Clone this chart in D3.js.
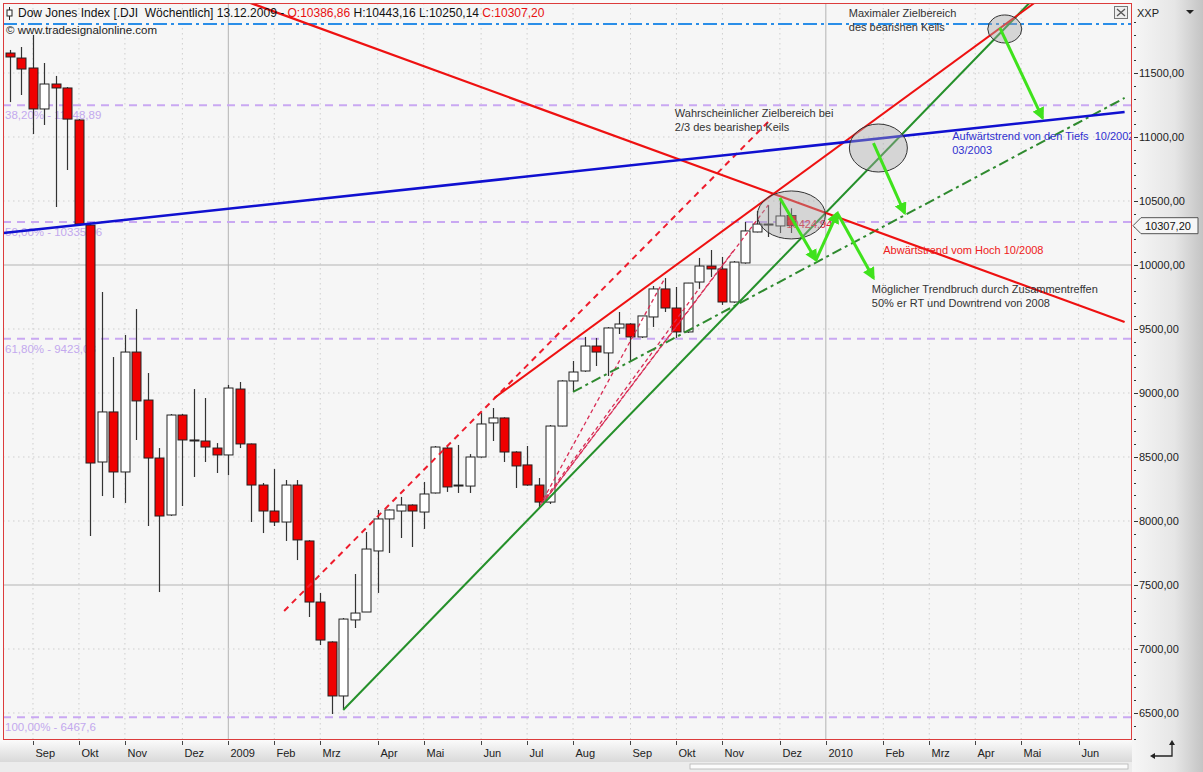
<!DOCTYPE html>
<html><head><meta charset="utf-8">
<script src="https://cdn.jsdelivr.net/npm/d3@7"></script>
<style>body{margin:0;background:#fff;overflow:hidden}svg{display:block;font-family:"Liberation Sans",Arial,sans-serif}text{white-space:pre}</style>
</head><body><svg id="c" width="1203" height="772"></svg>
<script>
// ---------------- DATA ----------------
const firstWeek = "2008-08-24"; // weekly bars, Sunday dated
const opens  = [11656,11617,11539,11219,11414,11383,11133,10312,8461,8852,8383,9320,8945,8492,8047,8828,8633,8625,8570,8516,9031,8602,8281,8078,7992,8281,7844,7367,7055,6633,7227,7289,7766,8016,8078,8125,8070,8219,8570,8275,8273,8500,8766,8805,8539,8438,8281,8148,8742,9094,9172,9367,9313,9508,9539,9438,9594,9813,9664,9477,9867,9992,9969,9711,10016,10258,10320,10305,10386.86];
const highs  = [11680,11703,11797,11578,11477,11390,11140,10330,9789,9281,9453,9656,9156,8570,8836,8836,9031,8961,8609,9063,9086,8605,8297,8406,8320,8320,7850,7438,7060,7242,7586,7914,8086,8090,8188,8130,8305,8586,8586,8594,8523,8844,8883,8810,8545,8586,8336,8750,9100,9250,9438,9430,9515,9633,9545,9602,9836,9898,9828,9860,10055,10117,10063,10031,10336,10422,10469,10508,10443.16];
const lows   = [11273,11328,11023,11094,10453,10742,10310,7883,8195,8180,8141,8633,7961,7445,8040,8117,8344,8461,8375,8359,8570,7992,7906,7961,7844,7695,7250,7031,6492,6531,7164,7289,7438,7750,7867,7797,7938,8215,8227,8219,8219,8495,8625,8461,8258,8275,8102,8133,8740,9008,9165,9211,9133,9461,9242,9430,9516,9633,9430,9470,9813,9906,9688,9705,10010,10255,10219,10250,10250.14];
const closes = [11625,11531,11219,11414,11383,11140,10320,8453,8852,8383,9320,8938,8492,8039,8828,8633,8625,8578,8516,9039,8602,8281,8078,7992,8281,7852,7367,7070,6633,7234,7281,7781,8016,8086,8125,8078,8211,8578,8266,8281,8500,8758,8805,8539,8430,8281,8148,8742,9094,9164,9367,9320,9508,9539,9438,9602,9813,9664,9477,9859,9992,9969,9711,10023,10266,10320,10318,10383,10307.20];

const monthTickDates = ["2008-09-07","2008-10-05","2008-11-02","2008-12-07","2009-01-04","2009-02-01","2009-03-01","2009-04-05","2009-05-03","2009-06-07","2009-07-05","2009-08-02","2009-09-06","2009-10-04","2009-11-01","2009-12-06","2010-01-03","2010-02-07","2010-03-07","2010-04-04","2010-05-02","2010-06-06"];
const monthTickLabels = ["Sep","Okt","Nov","Dez","2009","Feb","Mrz","Apr","Mai","Jun","Jul","Aug","Sep","Okt","Nov","Dez","2010","Feb","Mrz","Apr","Mai","Jun"];
const yTickValues = [6500,7000,7500,8000,8500,9000,9500,10000,10500,11000,11500];
const yMajorGrid = [7500,10000];

const fibNames  = ["38,20%","50,00%","61,80%","100,00%"];
const fibValues = [11248.89,10335.96,9423.03,6467.6];
const maxTargetLevel = 11883;

const upTrend2003   = [["2008-08-20",10250],["2010-07-04",11195]];
const downTrend2008 = [["2008-10-18",12475],["2010-07-04",9555]];
const wedgeUpper    = [["2009-06-15",8961],["2010-05-10",12047]];
const wedgeLower    = [["2009-03-15",6523],["2010-05-07",12047]];
const upperDashed   = [["2009-02-07",7297],["2009-11-30",11133]];
const dashDotGreen  = [["2009-08-02",9008],["2010-07-04",11305]];
const fanLines = [
  [["2009-07-13",8125],["2009-09-27",9898]],
  [["2009-07-14",8141],["2009-10-18",9820]],
  [["2009-07-16",8164],["2009-11-08",10117]],
  [["2009-07-17",8180],["2009-11-29",10469]]
];
const ellipseCenters = [["2009-12-13",10391],["2010-02-04",10914],["2010-04-22",11844]];
const arrowPaths = [
  [["2010-04-19",11852],["2010-05-15",11148]],
  [["2010-02-01",10953],["2010-02-20",10406]],
  [["2009-12-06",10523],["2009-12-28",10039]],
  [["2009-12-28",10039],["2010-01-10",10406]],
  [["2010-01-10",10406],["2010-02-01",9898]]
];
const notes = [
  {d:"2010-01-17", v:11937, lines:["Maximaler Zielbereich","des bearishen Keils"], color:"#333"},
  {d:"2009-10-03", v:11156, lines:["Wahrscheinlicher Zielbereich bei","2/3 des bearishen Keils"], color:"#333"},
  {d:"2010-03-21", v:10977, lines:["Aufwärtstrend von den Tiefs  10/2002","03/2003"], color:"#3030d0"},
  {d:"2010-02-07", v:10086, lines:["Abwärtstrend vom Hoch 10/2008"], color:"#ee2020"},
  {d:"2010-01-31", v:9781, lines:["Möglicher Trendbruch durch Zusammentreffen","50% er RT und Downtrend von 2008"], color:"#333"}
];
const highLabel = {d:"2009-12-10", v:10289, text:"10424,94"};
const header = {name:"Dow Jones Index [.DJI  Wöchentlich]", date:"13.12.2009"};

// ---------------- SETUP ----------------
const W=1203,H=772;
const P={l:3,r:1132,t:3,b:740};
const parse=d3.utcParse("%Y-%m-%d");
const svg=d3.select("#c");
const x=d3.scaleUtc().domain([parse("2008-08-24"),parse("2010-07-04")]).range([10,1124.6]);
const y=d3.scaleLinear().domain([6500,11500]).range([713,73]);
const fmt=v=>d3.format(".2f")(v).replace(".",",");
const fmtShort=v=>String(v).replace(".",",");
const pt=p=>[x(parse(p[0])),y(p[1])];

const defs=svg.append("defs");
defs.append("clipPath").attr("id","clip").append("rect").attr("x",P.l).attr("y",P.t).attr("width",P.r-P.l).attr("height",P.b-P.t);
const gr=defs.append("linearGradient").attr("id","gR").attr("x1",0).attr("x2",1).attr("y1",0).attr("y2",0);
gr.append("stop").attr("offset",0).attr("stop-color","#f6f6f6");
gr.append("stop").attr("offset",0.6).attr("stop-color","#e6e6e6");
gr.append("stop").attr("offset",1).attr("stop-color","#c4c4c4");
const gb=defs.append("linearGradient").attr("id","gB").attr("x1",0).attr("x2",0).attr("y1",0).attr("y2",1);
gb.append("stop").attr("offset",0).attr("stop-color","#fbfbfb");
gb.append("stop").attr("offset",1).attr("stop-color","#d9d9d9");
defs.append("marker").attr("id","arr").attr("viewBox","0 0 10 10").attr("refX",8).attr("refY",5)
  .attr("markerWidth",4.2).attr("markerHeight",4.2).attr("orient","auto").attr("markerUnits","strokeWidth")
  .append("path").attr("d","M0,0L10,5L0,10z").attr("fill","#3fe21c");

// backgrounds
svg.append("rect").attr("width",W).attr("height",H).attr("fill","#fafafa");
svg.append("rect").attr("x",P.r).attr("y",0).attr("width",W-P.r).attr("height",H).attr("fill","url(#gR)");
svg.append("rect").attr("x",0).attr("y",P.b).attr("width",P.r).attr("height",22).attr("fill","url(#gB)");
svg.append("rect").attr("x",0).attr("y",762).attr("width",P.r).attr("height",10).attr("fill","#ececec");
svg.append("rect").attr("x",690).attr("y",764).attr("width",438).attr("height",5).attr("fill","#fbfbfb").attr("stroke","#b5b5b5").attr("stroke-width",0.8);
svg.append("rect").attr("x",P.l).attr("y",P.t).attr("width",P.r-P.l).attr("height",P.b-P.t).attr("fill","#f6f6f6");

const plot=svg.append("g").attr("clip-path","url(#clip)");

// grid
monthTickDates.forEach((d,i)=>{
  const xx=x(parse(d));
  const major=monthTickLabels[i]==="2009"||monthTickLabels[i]==="2010";
  plot.append("line").attr("x1",xx).attr("x2",xx).attr("y1",P.t).attr("y2",P.b)
    .attr("stroke",major?"#b4b4b4":"#cfcfcf").attr("stroke-width",1).attr("stroke-dasharray",major?null:"1.5,3.5");
});
yTickValues.forEach(v=>{
  const major=yMajorGrid.includes(v);
  plot.append("line").attr("x1",P.l).attr("x2",P.r).attr("y1",y(v)).attr("y2",y(v))
    .attr("stroke",major?"#b4b4b4":"#cfcfcf").attr("stroke-width",1).attr("stroke-dasharray",major?null:"1.5,3.5");
});

// fib levels
fibValues.forEach((v,i)=>{
  plot.append("line").attr("x1",P.l).attr("x2",P.r).attr("y1",y(v)).attr("y2",y(v))
    .attr("stroke","#c9a8f2").attr("stroke-width",2).attr("stroke-dasharray","8,6");
  plot.append("text").attr("x",5).attr("y",y(v)+14).attr("font-size",11.5).attr("fill","#c3a9ee")
    .text(fibNames[i]+" - "+fmtShort(v));
});
// max target level
plot.append("line").attr("x1",P.l).attr("x2",P.r).attr("y1",y(maxTargetLevel)).attr("y2",y(maxTargetLevel))
  .attr("stroke","#2a8ee8").attr("stroke-width",2).attr("stroke-dasharray","14,4,3,4");

// candles
const dates=opens.map((_,i)=>d3.utcDay.offset(parse(firstWeek),7*i));
const bw=9;
const cg=plot.append("g");
cg.selectAll("line.w").data(d3.range(opens.length)).join("line")
  .attr("x1",i=>Math.round(x(dates[i]))+0.5).attr("x2",i=>Math.round(x(dates[i]))+0.5)
  .attr("y1",i=>y(highs[i])).attr("y2",i=>y(lows[i])).attr("stroke","#333").attr("stroke-width",1.2);
cg.selectAll("rect").data(d3.range(opens.length)).join("rect")
  .attr("x",i=>Math.round(x(dates[i]))-bw/2+0.5).attr("width",bw)
  .attr("y",i=>y(Math.max(opens[i],closes[i])))
  .attr("height",i=>Math.max(1,Math.abs(y(opens[i])-y(closes[i]))))
  .attr("fill",i=>closes[i]<opens[i]?"#f00000":"#ffffff").attr("stroke","#222").attr("stroke-width",1);

// trend lines
const line=d3.line().x(p=>pt(p)[0]).y(p=>pt(p)[1]);
fanLines.forEach(f=>plot.append("path").attr("d",line(f)).attr("fill","none").attr("stroke","#d82c55").attr("stroke-width",1.3).attr("stroke-dasharray","4,3"));
plot.append("path").attr("d",line(upperDashed)).attr("fill","none").attr("stroke","#ee1c2c").attr("stroke-width",2).attr("stroke-dasharray","6,5");
plot.append("path").attr("d",line(dashDotGreen)).attr("fill","none").attr("stroke","#2f8a2f").attr("stroke-width",2).attr("stroke-dasharray","10,4,3,4");
plot.append("path").attr("d",line(wedgeLower)).attr("fill","none").attr("stroke","#25902a").attr("stroke-width",2);
plot.append("path").attr("d",line(wedgeUpper)).attr("fill","none").attr("stroke","#ee1111").attr("stroke-width",2);
plot.append("path").attr("d",line(downTrend2008)).attr("fill","none").attr("stroke","#ee1111").attr("stroke-width",2.2);
plot.append("path").attr("d",line(upTrend2003)).attr("fill","none").attr("stroke","#1010d0").attr("stroke-width",2.6);

// high label
plot.append("text").attr("x",x(parse(highLabel.d))).attr("y",y(highLabel.v)).attr("font-size",11).attr("fill","#e2203a").text(highLabel.text);

// ellipses
const er=[[34,24],[29,24],[17,14]];
ellipseCenters.forEach((c,i)=>{
  plot.append("ellipse").attr("cx",pt(c)[0]).attr("cy",pt(c)[1]).attr("rx",er[i][0]).attr("ry",er[i][1])
    .attr("fill","#a8a8a8").attr("fill-opacity",0.42).attr("stroke","#333").attr("stroke-width",1);
});
// arrows
arrowPaths.forEach(a=>plot.append("path").attr("d",line(a)).attr("fill","none").attr("stroke","#3fe21c").attr("stroke-width",3).attr("marker-end","url(#arr)"));

// notes
notes.forEach(n=>{
  const t=plot.append("text").attr("x",x(parse(n.d))).attr("y",y(n.v)).attr("font-size",11).attr("fill",n.color).attr("xml:space","preserve");
  n.lines.forEach((l,i)=>t.append("tspan").attr("x",x(parse(n.d))).attr("dy",i?14:0).text(l));
});

// header
const ht=plot.append("text").attr("x",18).attr("y",17).attr("font-size",12).attr("fill","#111").attr("xml:space","preserve");
ht.append("tspan").text(header.name+" "+header.date+" - ");
ht.append("tspan").attr("fill","#e81010").text("O:"+fmt(opens[opens.length-1]));
ht.append("tspan").text(" H:"+fmt(highs[highs.length-1])+" L:"+fmt(lows[lows.length-1])+" ");
ht.append("tspan").attr("fill","#e81010").text("C:"+fmt(closes[closes.length-1]));
plot.append("line").attr("x1",9.5).attr("x2",9.5).attr("y1",7).attr("y2",20).attr("stroke","#222");
plot.append("rect").attr("x",7).attr("y",10).attr("width",5).attr("height",6).attr("fill","#fff").attr("stroke","#222");
plot.append("text").attr("x",6).attr("y",34).attr("font-size",11.5).attr("fill","#222").text("© www.tradesignalonline.com");
// close box
plot.append("rect").attr("x",1114.5).attr("y",6.5).attr("width",13).attr("height",12).attr("fill","#eee").attr("stroke","#777");
plot.append("path").attr("d","M1117,9L1125,16M1125,9L1117,16").attr("stroke","#555").attr("stroke-width",1.3);

// border
svg.append("rect").attr("x",P.l+0.5).attr("y",P.t+0.5).attr("width",P.r-P.l-1).attr("height",P.b-P.t-1).attr("fill","none").attr("stroke","#dc3c3c");

// right axis
const ra=svg.append("g");
d3.range(6300,12001,100).forEach(v=>{
  if(y(v)<P.t+8||y(v)>P.b) return;
  const major=v%500===0;
  ra.append("line").attr("x1",P.r+2).attr("x2",P.r+(major?6:4)).attr("y1",Math.round(y(v))+0.5).attr("y2",Math.round(y(v))+0.5).attr("stroke","#333");
});
yTickValues.forEach(v=>{
  ra.append("text").attr("x",P.r+7).attr("y",y(v)+4).attr("font-size",11).attr("fill","#222").text(fmt(v));
});
ra.append("text").attr("x",1137).attr("y",17).attr("font-size",11).attr("fill","#222").text("XXP");
ra.append("path").attr("d","M1186,10L1194,10L1190,14z").attr("fill","#222");
// last price marker
const lp=y(closes[closes.length-1]);
ra.append("path").attr("d",`M${P.r+1},${lp}L${P.r+9},${lp-8}L1198,${lp-8}L1198,${lp+8}L${P.r+9},${lp+8}z`).attr("fill","#f6f6f6").attr("stroke","#555");
ra.append("text").attr("x",1145).attr("y",lp+4).attr("font-size",11).attr("fill","#111").text(fmt(closes[closes.length-1]));
// return icon
ra.append("path").attr("d","M1172,742L1172,756L1152,756").attr("fill","none").attr("stroke","#222").attr("stroke-width",1.3);
ra.append("path").attr("d","M1169,745L1172,740L1175,745z").attr("fill","#222");
ra.append("path").attr("d","M1155,753L1150,756L1155,759z").attr("fill","#222");

// bottom axis
const ba=svg.append("g");
monthTickDates.forEach((d,i)=>{
  const xx=Math.round(x(parse(d)))+0.5;
  ba.append("line").attr("x1",xx).attr("x2",xx).attr("y1",P.b+1).attr("y2",P.b+5).attr("stroke","#444");
  ba.append("text").attr("x",xx+2).attr("y",757).attr("font-size",11).attr("fill","#222").text(monthTickLabels[i]);
});
</script></body></html>
